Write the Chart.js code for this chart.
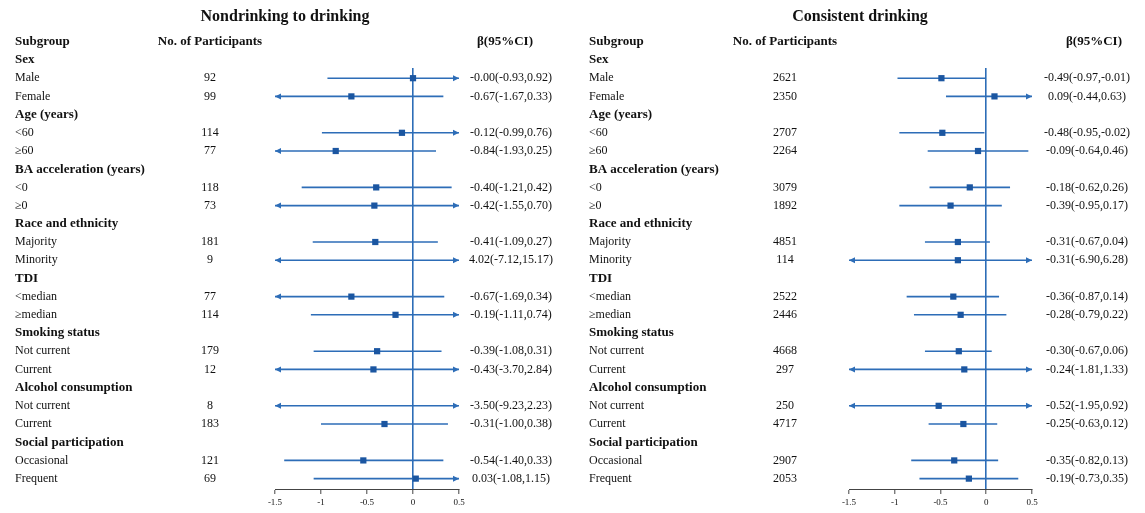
<!DOCTYPE html>
<html>
<head>
<meta charset="utf-8">
<title>Subgroup forest plots</title>
<script src="https://cdn.jsdelivr.net/npm/chart.js@4.4.1/dist/chart.umd.min.js"></script>
<style>
  html, body { margin: 0; padding: 0; background: #fff; }
  #wrap { position: relative; width: 1145px; height: 513px; overflow: hidden; }
  #wrap canvas { position: absolute; top: 0; }
  #left { left: 0; }
  #right { left: 573px; }
</style>
</head>
<body>
<div id="wrap">
  <canvas id="left" width="572" height="513"></canvas>
  <canvas id="right" width="572" height="513"></canvas>
</div>
<script>
// === DATOS ===
const groupNames = ["Sex", "Age (years)", "BA acceleration (years)", "Race and ethnicity",
                    "TDI", "Smoking status", "Alcohol consumption", "Social participation"];
const subgroupNames = [["Male", "Female"], ["<60", "≥60"], ["<0", "≥0"], ["Majority", "Minority"],
                       ["<median", "≥median"], ["Not current", "Current"], ["Not current", "Current"],
                       ["Occasional", "Frequent"]];
const xTicks = [-1.5, -1, -0.5, 0, 0.5];

// Nondrinking to drinking
const nondrinkN    = [92, 99, 114, 77, 118, 73, 181, 9, 77, 114, 179, 12, 8, 183, 121, 69];
const nondrinkBeta = [-0.00, -0.67, -0.12, -0.84, -0.40, -0.42, -0.41, 4.02, -0.67, -0.19, -0.39, -0.43, -3.50, -0.31, -0.54, 0.03];
const nondrinkLow  = [-0.93, -1.67, -0.99, -1.93, -1.21, -1.55, -1.09, -7.12, -1.69, -1.11, -1.08, -3.70, -9.23, -1.00, -1.40, -1.08];
const nondrinkHigh = [0.92, 0.33, 0.76, 0.25, 0.42, 0.70, 0.27, 15.17, 0.34, 0.74, 0.31, 2.84, 2.23, 0.38, 0.33, 1.15];

// Consistent drinking
const consistN    = [2621, 2350, 2707, 2264, 3079, 1892, 4851, 114, 2522, 2446, 4668, 297, 250, 4717, 2907, 2053];
const consistBeta = [-0.49, 0.09, -0.48, -0.09, -0.18, -0.39, -0.31, -0.31, -0.36, -0.28, -0.30, -0.24, -0.52, -0.25, -0.35, -0.19];
const consistLow  = [-0.97, -0.44, -0.95, -0.64, -0.62, -0.95, -0.67, -6.90, -0.87, -0.79, -0.67, -1.81, -1.95, -0.63, -0.82, -0.73];
const consistHigh = [-0.01, 0.63, -0.02, 0.46, 0.26, 0.17, 0.04, 6.28, 0.14, 0.22, 0.06, 1.33, 0.92, 0.12, 0.13, 0.35];

const FONT = '"Liberation Serif", "Times New Roman", serif';
const BLUE = "#2d6db7";
const MARK = "#1b56a1";

// filas: cabecera de grupo + sus dos subgrupos
const rows = [];
const rowOfItem = [];
groupNames.forEach((g, gi) => {
    rows.push({ text: g, header: true });
    subgroupNames[gi].forEach(s => {
        rowOfItem.push(rows.length);
        rows.push({ text: s, header: false, item: rowOfItem.length - 1 });
    });
});

// -0.00 conserva el signo
function fmt(v) {
    const neg = v < 0 || Object.is(v, -0);
    return (neg ? "-" : "") + Math.abs(v).toFixed(2);
}

function drawArrow(ctx, x, y, dir) {
    ctx.beginPath();
    ctx.moveTo(x, y);
    ctx.lineTo(x - dir * 6, y - 3);
    ctx.lineTo(x - dir * 6, y + 3);
    ctx.closePath();
    ctx.fill();
}

function makePanel(canvasId, title, nArr, betaArr, lowArr, highArr, pos) {
    const xMin = xTicks[0];
    const xMax = xTicks[xTicks.length - 1];

    // === INTERVALOS (con flechas si se salen del eje) ===
    const ciPlugin = {
        id: "ciLines",
        beforeDatasetsDraw(chart) {
            const { ctx, scales: { x, y } } = chart;
            ctx.save();
            ctx.strokeStyle = BLUE;
            ctx.fillStyle = BLUE;
            ctx.lineWidth = 1.6;
            lowArr.forEach((lo, k) => {
                const hi = highArr[k];
                const py = y.getPixelForValue(rowOfItem[k]);
                const x1 = x.getPixelForValue(Math.max(lo, xMin));
                const x2 = x.getPixelForValue(Math.min(hi, xMax));
                ctx.beginPath();
                ctx.moveTo(x1, py);
                ctx.lineTo(x2, py);
                ctx.stroke();
                if (lo < xMin) drawArrow(ctx, x1, py, -1);
                if (hi > xMax) drawArrow(ctx, x2, py, 1);
            });
            ctx.restore();
        }
    };

    // === TEXTOS DE LA TABLA ===
    const textPlugin = {
        id: "tableText",
        afterDraw(chart) {
            const { ctx, scales: { y } } = chart;
            ctx.save();
            ctx.fillStyle = "#111";
            ctx.textBaseline = "middle";

            ctx.font = `bold 16px ${FONT}`;
            ctx.textAlign = "center";
            ctx.fillText(title, pos.titleX, 17);

            const headY = y.getPixelForValue(-1);
            ctx.font = `bold 13px ${FONT}`;
            ctx.textAlign = "left";
            ctx.fillText("Subgroup", pos.labelX, headY);
            ctx.textAlign = "center";
            ctx.fillText("No. of Participants", pos.nX, headY);
            ctx.fillText("β(95%CI)", pos.ciHeadX, headY);

            rows.forEach((r, i) => {
                const py = y.getPixelForValue(i);
                if (r.header) {
                    ctx.font = `bold 13px ${FONT}`;
                    ctx.textAlign = "left";
                    ctx.fillText(r.text, pos.labelX, py);
                    return;
                }
                const k = r.item;
                ctx.font = `12px ${FONT}`;
                ctx.textAlign = "left";
                ctx.fillText(r.text, pos.labelX, py);
                ctx.textAlign = "center";
                ctx.fillText(String(nArr[k]), pos.nX, py);
                ctx.fillText(`${fmt(betaArr[k])}(${fmt(lowArr[k])},${fmt(highArr[k])})`, pos.ciX, py);
            });
            ctx.restore();
        }
    };

    const points = betaArr.map((b, k) => ({ x: b, y: rowOfItem[k] }));

    return new Chart(document.getElementById(canvasId), {
        type: "scatter",
        data: {
            datasets: [{
                data: points,
                pointStyle: "rect",
                pointRadius: 4.4,
                pointHoverRadius: 4.4,
                backgroundColor: MARK,
                borderColor: MARK,
                borderWidth: 0
            }]
        },
        options: {
            responsive: false,
            animation: false,
            devicePixelRatio: 1,
            layout: { padding: { left: pos.padLeft, right: pos.padRight, top: 68, bottom: 0 } },
            plugins: {
                legend: { display: false },
                tooltip: { enabled: false }
            },
            scales: {
                x: {
                    type: "linear",
                    min: xMin,
                    max: xMax,
                    afterBuildTicks: s => { s.ticks = xTicks.map(v => ({ value: v })); },
                    afterFit: s => { s.height = 24; },
                    grid: {
                        color: c => (c.tick && c.tick.value === 0) ? BLUE : "rgba(0,0,0,0)",
                        lineWidth: 1.6,
                        tickLength: 5,
                        tickColor: "#444",
                        tickWidth: 1
                    },
                    border: { display: true, color: "#444", width: 1 },
                    ticks: {
                        font: { family: FONT, size: 9 },
                        color: "#111",
                        padding: 3,
                        maxRotation: 0,
                        callback: v => String(v)
                    }
                },
                y: { type: "linear", display: false, min: 0.44, max: 23.57, reverse: true }
            }
        },
        plugins: [ciPlugin, textPlugin]
    });
}

makePanel("left", "Nondrinking to drinking", nondrinkN, nondrinkBeta, nondrinkLow, nondrinkHigh,
    { padLeft: 275, padRight: 113, titleX: 285, labelX: 15, nX: 210, ciHeadX: 505, ciX: 511 });
makePanel("right", "Consistent drinking", consistN, consistBeta, consistLow, consistHigh,
    { padLeft: 276, padRight: 113, titleX: 287, labelX: 16, nX: 212, ciHeadX: 521, ciX: 514 });
</script>
</body>
</html>
